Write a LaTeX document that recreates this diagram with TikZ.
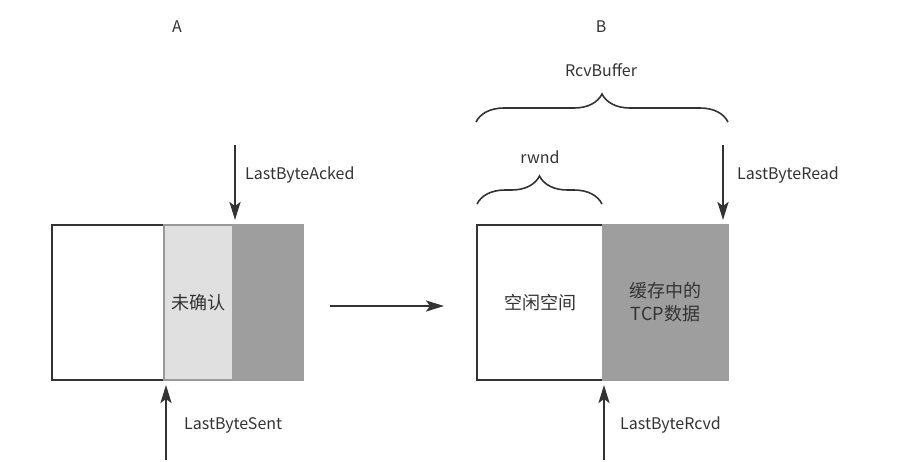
\documentclass[tikz,border=0pt]{standalone}
\usepackage{fontspec}
\setmainfont{Noto Sans CJK SC}
\usepackage{xcolor}
\usetikzlibrary{arrows.meta,decorations.pathreplacing}

\definecolor{ink}{HTML}{333333}
\definecolor{lightcell}{HTML}{E0E0E0}
\definecolor{darkcell}{HTML}{9E9E9E}
\definecolor{cellline}{HTML}{999999}

\begin{document}
\begin{tikzpicture}[x=1pt, y=-1pt,
    cell/.style={line width=2.5pt, anchor=north west, minimum height=155pt, inner sep=0pt, outer sep=0pt,
        text=ink, align=center, font=\fontsize{18}{23}\selectfont},
    freecell/.style={cell, draw=ink, fill=white},
    pointer/.style={draw=ink, line width=2.5pt, -{Stealth[length=18pt, width=11pt, inset=4pt]}},
    tag/.style={text=ink, anchor=west, inner sep=0pt, font=\fontsize{16}{18}\selectfont},
    bracket/.style={draw=ink, line width=1.6pt, decorate, decoration={brace, amplitude=28pt}}]
\useasboundingbox (0,0) rectangle (901,461);

\node [tag, anchor=center] (hostA) at (177,27) {A};
\node [tag, anchor=center] (hostB) at (601,27) {B};

\node [freecell, minimum width=112pt] (sent) at (52,225) {};
\node [cell, draw=cellline, fill=lightcell, minimum width=69pt] (unack) at (164,225) {未确认};
\node [cell, draw=darkcell, fill=darkcell, minimum width=70pt] (acked) at (233,225) {};

\node [freecell, minimum width=126pt] (rwndcell) at (477,225) {空闲空间};
\node [cell, draw=darkcell, fill=darkcell, minimum width=125pt] (bufcell) at (603,225) {缓存中的\\TCP数据};

\coordinate (ackedtop) at (235,145);
\coordinate (sentbottom) at (166,460);
\coordinate (readtop) at (723,145);
\coordinate (rcvdbottom) at (604,460);
\coordinate (sendout) at (330,306);
\coordinate (recvin) at (444,306);

\draw [pointer, shorten >=5pt] (ackedtop) -- (ackedtop |- acked.north);
\draw [pointer, shorten >=5pt] (sentbottom) -- (sentbottom |- sent.south);
\draw [pointer, shorten >=5pt] (readtop) -- (readtop |- bufcell.north);
\draw [pointer, shorten >=5pt] (rcvdbottom) -- (rcvdbottom |- bufcell.south);
\draw [pointer] (sendout) -- (recvin);

\node [tag] (ackedlabel) at (245,175) {LastByteAcked};
\node [tag] (sentlabel) at (184,425) {LastByteSent};
\node [tag] (readlabel) at (737,175) {LastByteRead};
\node [tag] (rcvdlabel) at (620,425) {LastByteRcvd};

\coordinate (bufleft) at (476,122);
\coordinate (bufright) at (728,122);
\coordinate (rwndleft) at (477,204);
\coordinate (rwndright) at (602,204);
\draw [bracket] (bufleft) -- (bufright);
\draw [bracket] (rwndleft) -- (rwndright);
\node [tag, anchor=center] (buflabel) at (601,70) {RcvBuffer};
\node [tag, anchor=center] (rwndlabel) at (540,157) {rwnd};
\end{tikzpicture}
\end{document}
